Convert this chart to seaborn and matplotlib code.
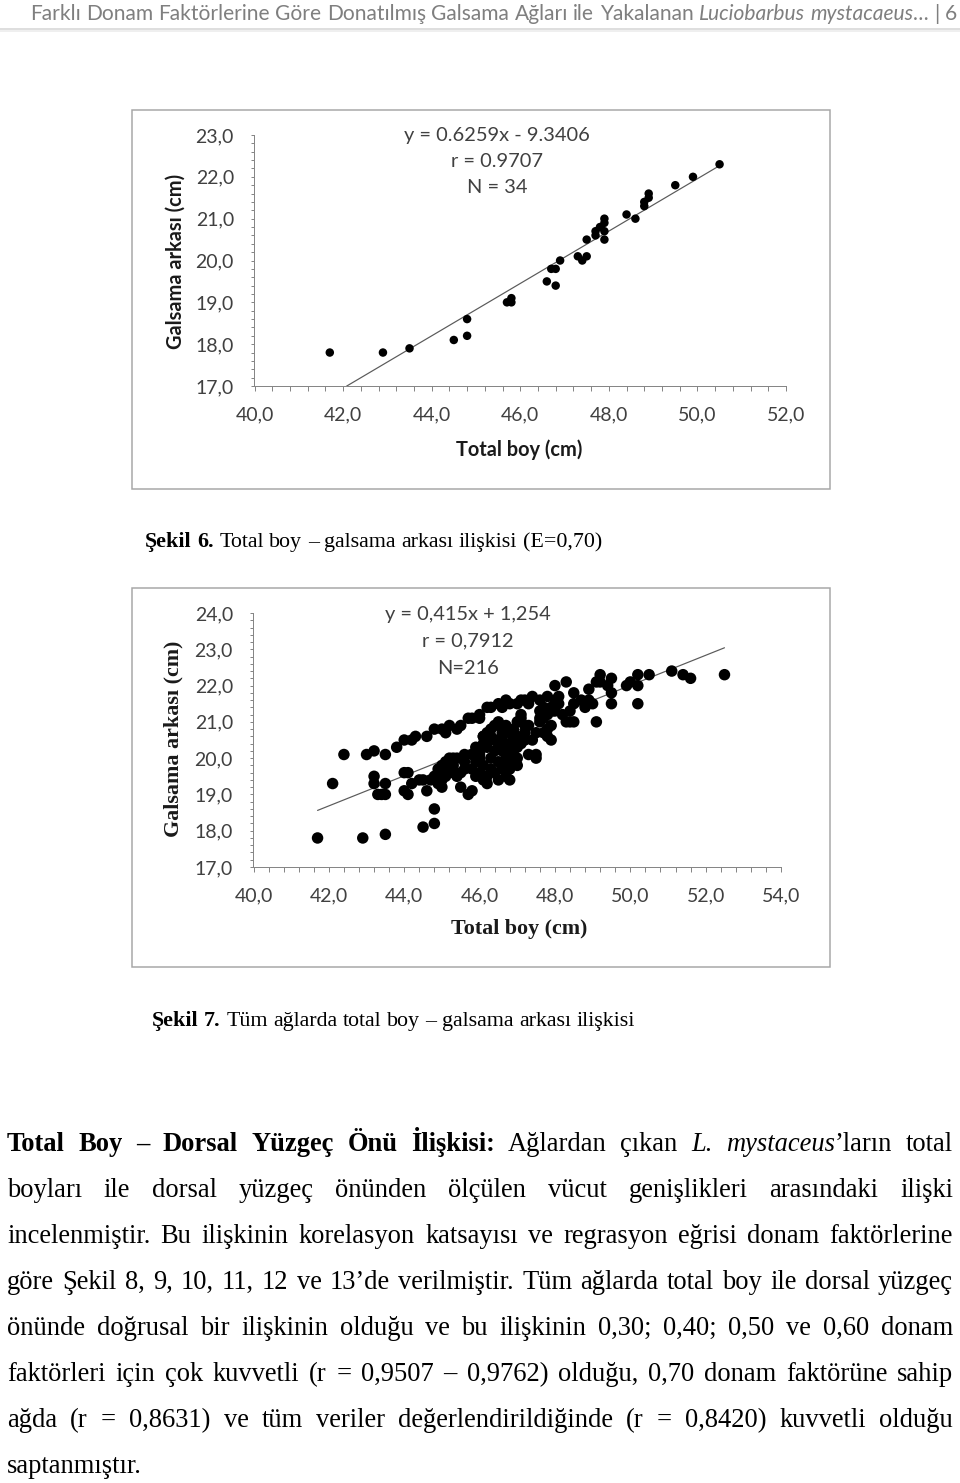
import matplotlib
matplotlib.use("Agg")
import numpy as np
import pandas as pd
import matplotlib.pyplot as plt
import seaborn as sns
from matplotlib.ticker import MultipleLocator, FuncFormatter
from matplotlib.patches import Rectangle

# Şekil 6 verisi (E=0,70), N = 34
boy_e70 = [41.7, 42.9, 43.5, 44.5, 44.8, 44.8, 45.7, 45.8, 45.8, 46.6, 46.7, 46.8,
           46.8, 46.9, 47.3, 47.4, 47.5, 47.5, 47.7, 47.7, 47.8, 47.9, 47.9, 47.9,
           47.9, 48.4, 48.6, 48.8, 48.8, 48.9, 48.9, 49.5, 49.9, 50.5]
galsama_e70 = [17.8, 17.8, 17.9, 18.1, 18.6, 18.2, 19.0, 19.1, 19.0, 19.5, 19.8, 19.8,
               19.4, 20.0, 20.1, 20.0, 20.1, 20.5, 20.6, 20.7, 20.8, 20.9, 21.0, 20.7,
               20.5, 21.1, 21.0, 21.4, 21.3, 21.5, 21.6, 21.8, 22.0, 22.3]
egim_e70, kesisim_e70 = 0.6259, -9.3406
dogru_x_e70 = [42.08, 50.5]
metin_e70 = ["y = 0.6259x - 9.3406", "r = 0.9707", "N = 34"]

# Şekil 7 verisi (tüm ağlar), N = 216 (üst üste binen noktalar tek çizildi)
boy_tum = [41.7, 42.9, 43.5, 44.5, 44.8, 44.8,
           42.1, 42.4, 43.0, 43.2, 43.5, 43.8,
           43.2, 43.2, 43.3, 43.4, 43.5, 43.5,
           44.0, 44.1, 44.0, 44.1, 44.2, 44.4, 44.6, 44.5, 44.8,
           45.0, 45.0, 45.0, 45.1, 45.2, 45.0, 45.3, 45.4, 45.5, 45.5, 45.7, 45.8, 45.6, 45.4,
           44.9, 45.1, 45.2, 44.7, 45.3,
           44.0, 44.2, 44.3, 44.6, 44.8, 45.0, 45.1, 45.2, 45.4, 45.5, 45.7, 45.8, 46.0, 46.0,
           46.2, 46.3, 46.5, 46.7, 46.8, 47.0, 47.1, 47.2, 47.4, 47.6, 47.8, 48.0, 48.3,
           46.0, 46.0, 46.1, 46.1, 46.2, 46.3, 46.4, 46.5, 46.6, 46.6, 46.2, 46.4, 46.5,
           46.8, 46.9, 47.0, 47.1, 47.1, 47.2, 47.2, 46.9, 46.8, 46.6, 46.9, 47.3, 47.5,
           47.5, 47.4, 47.5, 47.6, 47.7, 47.7, 47.9, 47.9, 47.8, 47.7, 47.9, 48.0, 48.0,
           48.1, 48.1, 48.3, 48.4, 48.5, 48.4, 48.5, 48.5, 48.7, 48.8, 48.9, 48.9, 49.0,
           49.1, 49.1, 49.2, 49.2, 49.4, 49.5, 49.5, 49.5, 49.9, 50.0, 50.2, 50.2, 50.2,
           50.5, 51.1, 51.4, 51.6, 52.5,
           46.0, 46.1, 46.2, 46.3, 46.4, 46.5, 46.7, 46.8, 46.1,
           46.0, 46.2, 46.3, 46.7, 47.0, 47.3, 47.6, 47.8, 48.2, 47.3, 46.6, 47.0,
           46.7, 46.8, 46.9, 46.6, 46.7, 47.0, 46.5, 46.6, 46.9, 46.4, 46.3, 46.8,
           47.0, 46.5, 46.7, 45.9, 45.8, 45.9, 46.1, 45.6, 45.8, 45.3, 45.1, 44.9,
           45.6, 45.9, 46.2, 47.1, 47.2, 47.8, 47.6]
galsama_tum = [17.8, 17.8, 17.9, 18.1, 18.2, 18.6,
               19.3, 20.1, 20.1, 20.2, 20.1, 20.3,
               19.5, 19.3, 19.0, 19.0, 19.0, 19.3,
               19.6, 19.6, 19.1, 19.0, 19.3, 19.4, 19.1, 19.4, 19.5,
               19.4, 19.2, 19.8, 19.9, 20.0, 19.6, 19.6, 19.5, 19.6, 19.2, 19.0, 19.1, 20.1, 20.0,
               19.3, 19.5, 19.7, 19.4, 20.0,
               20.5, 20.5, 20.6, 20.6, 20.8, 20.8, 20.7, 20.9, 20.8, 20.9, 21.1, 21.1, 21.1, 21.2,
               21.4, 21.4, 21.5, 21.6, 21.5, 21.5, 21.6, 21.6, 21.7, 21.6, 21.7, 22.0, 22.1,
               20.1, 20.2, 20.4, 20.6, 20.7, 20.8, 20.9, 21.0, 20.7, 20.8, 20.5, 20.5, 20.5,
               20.7, 20.5, 20.3, 21.1, 21.2, 20.9, 20.7, 19.9, 19.7, 19.7, 20.1, 20.1, 20.0,
               20.1, 20.5, 20.7, 21.0, 21.1, 20.7, 20.9, 20.5, 21.2, 21.4, 21.4, 21.6, 21.3,
               21.5, 21.7, 21.0, 21.0, 21.0, 21.3, 21.5, 21.8, 21.6, 21.4, 21.6, 21.9, 21.5,
               21.0, 22.1, 22.3, 22.1, 22.0, 22.2, 21.8, 21.5, 22.0, 22.1, 22.3, 22.0, 21.5,
               22.3, 22.4, 22.3, 22.2, 22.3,
               19.6, 19.4, 19.3, 19.7, 19.6, 19.4, 19.5, 19.4, 19.8,
               20.0, 20.3, 20.6, 20.9, 20.6, 20.9, 21.3, 20.8, 21.2, 21.5, 21.4, 21.0,
               20.4, 20.3, 20.6, 20.2, 20.0, 20.0, 20.3, 20.6, 20.8, 20.2, 20.0, 20.1,
               19.8, 19.9, 19.8, 20.3, 20.1, 19.9, 20.6, 19.9, 19.7, 19.8, 19.6, 19.7,
               19.7, 19.5, 19.5, 20.4, 20.5, 20.6, 21.1]
egim_tum, kesisim_tum = 0.415, 1.254
dogru_x_tum = [41.7, 52.5]
metin_tum = ["y = 0,415x + 1,254", "r = 0,7912", "N=216"]

# sayfa metinleri (* kalın, _ italik)
baslik = "Farklı Donam Faktörlerine Göre Donatılmış Galsama Ağları ile Yakalanan _Luciobarbus mystacaeus_… | 6"
sekil6 = "*Şekil 6.* Total boy – galsama arkası ilişkisi (E=0,70)"
sekil7 = "*Şekil 7.* Tüm ağlarda total boy – galsama arkası ilişkisi"
paragraf = [
    "*Total Boy – Dorsal Yüzgeç Önü İlişkisi:* Ağlardan çıkan _L. mystaceus_’ların total",
    "boyları ile dorsal yüzgeç önünden ölçülen vücut genişlikleri arasındaki ilişki",
    "incelenmiştir. Bu ilişkinin korelasyon katsayısı ve regrasyon eğrisi donam faktörlerine",
    "göre Şekil 8, 9, 10, 11, 12 ve 13’de verilmiştir. Tüm ağlarda total boy ile dorsal yüzgeç",
    "önünde doğrusal bir ilişkinin olduğu ve bu ilişkinin 0,30; 0,40; 0,50 ve 0,60 donam",
    "faktörleri için çok kuvvetli (r = 0,9507 – 0,9762) olduğu, 0,70 donam faktörüne sahip",
    "ağda (r = 0,8631) ve tüm veriler değerlendirildiğinde (r = 0,8420) kuvvetli olduğu",
    "saptanmıştır.",
]

sns.set_theme(style="white")
plt.rcParams['font.family'] = ['Lato', 'DejaVu Sans']

W, H = 960, 1483
fig = plt.figure(figsize=(W / 72, H / 72), dpi=72)
ov = fig.add_axes([0, 0, 1, 1])
ov.set_xlim(0, W)
ov.set_ylim(H, 0)
ov.axis('off')
R = fig.canvas.get_renderer()

SERIF = 'Liberation Serif'
SANS = 'Lato'


def parcala(satir):
    kelimeler, kelime, buf = [], [], ''
    kalin = ital = False
    for ch in satir:
        if ch in '*_':
            if buf:
                kelime.append((buf, kalin, ital))
                buf = ''
            if ch == '*':
                kalin = not kalin
            else:
                ital = not ital
        elif ch == ' ':
            if buf:
                kelime.append((buf, kalin, ital))
                buf = ''
            if kelime:
                kelimeler.append(kelime)
                kelime = []
        else:
            buf += ch
    if buf:
        kelime.append((buf, kalin, ital))
    if kelime:
        kelimeler.append(kelime)
    return kelimeler


def stil(size, family, kalin, ital, color):
    return dict(fontsize=size, family=family, color=color,
                weight='bold' if kalin else 'normal',
                style='italic' if ital else 'normal')


def olc(s, size, family, kalin=False, ital=False):
    t = ov.text(0, 0, s, **stil(size, family, kalin, ital, 'k'))
    w = t.get_window_extent(renderer=R).width
    t.remove()
    return w


def satir_yaz(satir, x0, y, size, family, color, genislik=None):
    kelimeler = parcala(satir)
    ws = [sum(olc(s, size, family, b, i) for s, b, i in k) for k in kelimeler]
    if genislik is None or len(kelimeler) < 2:
        bosluk = olc('a a', size, family) - olc('aa', size, family)
    else:
        bosluk = (genislik - sum(ws)) / (len(kelimeler) - 1)
    x = x0
    for k, wd in zip(kelimeler, ws):
        xx = x
        for s, b, i in k:
            ov.text(xx, y, s, ha='left', va='baseline', **stil(size, family, b, i, color))
            xx += olc(s, size, family, b, i)
        x += wd + bosluk


def satir_genislik(satir, size, family):
    kelimeler = parcala(satir)
    bosluk = olc('a a', size, family) - olc('aa', size, family)
    ws = [sum(olc(s, size, family, b, i) for s, b, i in k) for k in kelimeler]
    return sum(ws) + bosluk * (len(kelimeler) - 1)


# üst bilgi
bs = 20 * 925 / satir_genislik(baslik, 20, SANS)
satir_yaz(baslik, 30, 20, bs, SANS, '#7f7f7f')
ov.plot([0, W], [29, 29], color='#d4d4d4', lw=1.5)
ov.plot([0, W], [31, 31], color='#efefef', lw=2)

# grafik çerçeveleri
for top in (110, 588):
    ov.add_patch(Rectangle((132, top), 698, 379, fill=False, ec='#a6a6a6', lw=1.5))

GRI = '#868686'
virgul = FuncFormatter(lambda v, p: f"{v:.1f}".replace(".", ","))


def eksen(left, top, right, bottom):
    return fig.add_axes([left / W, 1 - bottom / H, (right - left) / W, (bottom - top) / H])


def grafik(ax, boy, galsama, egim, kesisim, dogru_x, xmax, ymax, nokta, metin, mx, my,
           etiket_font, etiket_size, etiket_pos):
    df = pd.DataFrame({"boy": boy, "galsama": galsama})
    sns.scatterplot(data=df, x="boy", y="galsama", ax=ax, color="black", s=nokta,
                    edgecolor="none", legend=False, zorder=3)
    lx = np.array(dogru_x)
    sns.lineplot(x=lx, y=egim * lx + kesisim, ax=ax, color="#5a5a5a", lw=1.2, zorder=2)
    ax.set_xlim(40, xmax)
    ax.set_ylim(17, ymax)
    ax.set_facecolor('none')
    ax.xaxis.set_major_locator(MultipleLocator(2))
    ax.xaxis.set_minor_locator(MultipleLocator(0.4))
    ax.yaxis.set_major_locator(MultipleLocator(1))
    ax.yaxis.set_minor_locator(MultipleLocator(0.2))
    ax.xaxis.set_major_formatter(virgul)
    ax.yaxis.set_major_formatter(virgul)
    ax.tick_params(axis='x', which='both', bottom=True, direction='out', length=5, width=1,
                   color=GRI, pad=15, labelsize=19.5, labelcolor='#404040')
    ax.tick_params(axis='y', which='both', left=True, direction='out', length=3.5, width=1,
                   color=GRI, pad=17, labelsize=19.5, labelcolor='#404040')
    for s in ('top', 'right'):
        ax.spines[s].set_visible(False)
    for s in ('left', 'bottom'):
        ax.spines[s].set_color(GRI)
        ax.spines[s].set_linewidth(1)
    for sat, yy in zip(metin, my):
        ax.text(mx, yy, sat, transform=ax.transAxes, ha='center', va='center',
                fontsize=20, color='#404040', family=SANS, clip_on=False)
    ax.set_xlabel("Total boy (cm)", fontsize=etiket_size, fontweight='bold',
                  family=etiket_font, color='#1a1a1a')
    ax.set_ylabel("Galsama arkası (cm)", fontsize=etiket_size, fontweight='bold',
                  family=etiket_font, color='#1a1a1a')
    (xlx, xly), (ylx, yly) = etiket_pos
    ax.xaxis.set_label_coords(xlx, xly)
    ax.yaxis.set_label_coords(ylx, yly)
    ax.xaxis.label.set_va('center')
    ax.yaxis.label.set_va('center')


ax1 = eksen(254.5, 135, 786, 386)
grafik(ax1, boy_e70, galsama_e70, egim_e70, kesisim_e70, dogru_x_e70, 52, 23, 72,
       metin_e70, 0.456, [1.0, 0.896, 0.789], SANS, 20,
       ((0.498, -0.255), (-0.148, 0.498)))

ax2 = eksen(253.5, 613, 781, 867)
grafik(ax2, boy_tum, galsama_tum, egim_tum, kesisim_tum, dogru_x_tum, 54, 24, 132,
       metin_tum, 0.407, [0.996, 0.890, 0.783], SERIF, 22,
       ((0.503, -0.244), (-0.151, 0.504)))

# şekil altyazıları
satir_yaz(sekil6, 145, 547, 22, SERIF, 'black')
satir_yaz(sekil7, 152, 1026, 22, SERIF, 'black')

# metin paragrafı (iki yana yaslı)
for i, sat in enumerate(paragraf):
    y = 1151 + 46 * i
    if i < len(paragraf) - 1:
        satir_yaz(sat, 7, y, 26.5, SERIF, 'black', genislik=946)
    else:
        satir_yaz(sat, 7, y, 26.5, SERIF, 'black')

fig.savefig("out.png", dpi=72, facecolor='white')
